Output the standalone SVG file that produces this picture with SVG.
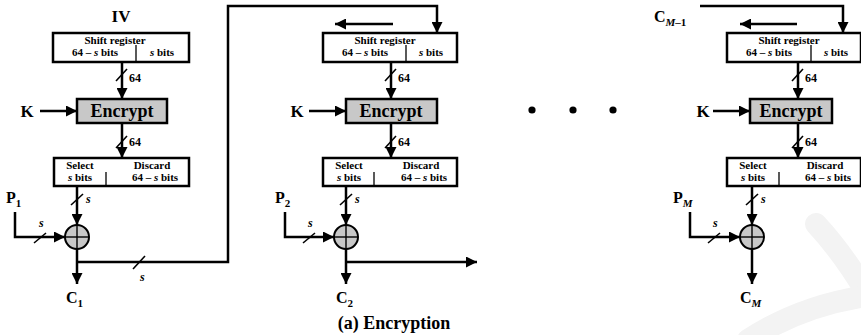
<svg xmlns="http://www.w3.org/2000/svg" width="861" height="335" viewBox="0 0 861 335" font-family="'Liberation Serif', 'DejaVu Serif', serif">
  <defs>
    <marker id="arrow" viewBox="0 0 10 10" refX="10" refY="5" markerWidth="11" markerHeight="11" markerUnits="userSpaceOnUse" orient="auto">
      <path d="M0,0 L10,5 L0,10 Z" fill="#000"/>
    </marker>
    <style>
      text { font-family: 'Liberation Serif', 'DejaVu Serif', serif; font-weight: bold; fill: #000; }
      .box { fill: #fff; stroke: #000; stroke-width: 2.5; }
      .enc { fill: #c8c8c8; stroke: #000; stroke-width: 2.5; }
      .div { stroke: #000; stroke-width: 1.3; }
      .arr { fill: none; stroke: #000; stroke-width: 2.5; marker-end: url(#arrow); }
      .slash { stroke: #000; stroke-width: 1.6; }
      .xor { fill: #c8c8c8; stroke: #000; stroke-width: 2; }
      .cross { stroke: #000; stroke-width: 1.4; }
      .small { font-size: 11px; }
      .lbl { font-size: 16px; }
      .big { font-size: 17px; }
      .sub { font-size: 11px; }
      .it { font-style: italic; }
      .bits { font-size: 12px; }
      .encl { font-size: 18px; }
      .cap { font-size: 18px; }
      .wm { fill: none; stroke: #f3f3f3; stroke-width: 22; stroke-linecap: round; }
    </style>
  </defs>

  <!-- faint background mark -->
  <g id="mark">
    <path class="wm" d="M816,224 Q842,252 866,292"/>
    <path class="wm" d="M748,340 Q800,306 866,296"/>
  </g>

  <!-- ===== Stage 1 ===== -->
  <g id="iv">
    <text x="121" y="22" class="big" text-anchor="middle">IV</text>
  </g>
  <g id="shift1">
    <rect class="box" x="53" y="33" width="136" height="29"/>
    <line class="div" x1="136" y1="45" x2="136" y2="62"/>
    <text x="115" y="44" class="small" text-anchor="middle">Shift register</text>
    <text x="95" y="56" class="small" text-anchor="middle">64 – <tspan class="it">s</tspan> bits</text>
    <text x="162" y="56" class="small" text-anchor="middle"><tspan class="it">s</tspan> bits</text>
  </g>
  <g id="k1"><text x="27" y="117" class="big" text-anchor="middle">K</text></g>
  <g id="encrypt1">
    <rect class="enc" x="77" y="99" width="90" height="24"/>
    <text x="122" y="117" class="encl" text-anchor="middle">Encrypt</text>
  </g>
  <g id="select1">
    <rect class="box" x="54" y="158" width="135" height="28"/>
    <line class="div" x1="106" y1="172" x2="106" y2="186"/>
    <text x="80" y="169" class="small" text-anchor="middle">Select</text>
    <text x="80" y="181" class="small" text-anchor="middle"><tspan class="it">s</tspan> bits</text>
    <text x="152" y="169" class="small" text-anchor="middle">Discard</text>
    <text x="155" y="181" class="small" text-anchor="middle">64 – <tspan class="it">s</tspan> bits</text>
  </g>
  <g id="xor1">
    <circle class="xor" cx="77" cy="237" r="12"/>
    <line class="cross" x1="65" y1="237" x2="89" y2="237"/>
    <line class="cross" x1="77" y1="225" x2="77" y2="249"/>
  </g>
  <g id="p1"><text x="6" y="203" class="lbl">P<tspan class="sub" dy="4">1</tspan></text></g>
  <g id="c1"><text x="66" y="303" class="lbl">C<tspan class="sub" dy="4">1</tspan></text></g>

  <!-- ===== Stage 2 ===== -->
  <g id="shift2">
    <rect class="box" x="323" y="33" width="134" height="29"/>
    <line class="div" x1="406" y1="45" x2="406" y2="62"/>
    <text x="385" y="44" class="small" text-anchor="middle">Shift register</text>
    <text x="365" y="56" class="small" text-anchor="middle">64 – <tspan class="it">s</tspan> bits</text>
    <text x="431" y="56" class="small" text-anchor="middle"><tspan class="it">s</tspan> bits</text>
  </g>
  <g id="k2"><text x="297" y="117" class="big" text-anchor="middle">K</text></g>
  <g id="encrypt2">
    <rect class="enc" x="346" y="99" width="91" height="24"/>
    <text x="391" y="117" class="encl" text-anchor="middle">Encrypt</text>
  </g>
  <g id="select2">
    <rect class="box" x="323" y="158" width="134" height="28"/>
    <line class="div" x1="374" y1="172" x2="374" y2="186"/>
    <text x="349" y="169" class="small" text-anchor="middle">Select</text>
    <text x="349" y="181" class="small" text-anchor="middle"><tspan class="it">s</tspan> bits</text>
    <text x="421" y="169" class="small" text-anchor="middle">Discard</text>
    <text x="424" y="181" class="small" text-anchor="middle">64 – <tspan class="it">s</tspan> bits</text>
  </g>
  <g id="xor2">
    <circle class="xor" cx="346" cy="237" r="12"/>
    <line class="cross" x1="334" y1="237" x2="358" y2="237"/>
    <line class="cross" x1="346" y1="225" x2="346" y2="249"/>
  </g>
  <g id="p2"><text x="275" y="203" class="lbl">P<tspan class="sub" dy="4">2</tspan></text></g>
  <g id="c2"><text x="336" y="303" class="lbl">C<tspan class="sub" dy="4">2</tspan></text></g>

  <!-- continuation dots -->
  <g id="dots">
    <circle cx="532" cy="110" r="3.6"/>
    <circle cx="573" cy="110" r="3.6"/>
    <circle cx="613" cy="110" r="3.6"/>
  </g>

  <!-- ===== Stage M ===== -->
  <g id="cm1"><text x="654" y="22" class="lbl">C<tspan class="sub it" dy="4">M</tspan><tspan class="sub">–1</tspan></text></g>
  <g id="shiftM">
    <rect class="box" x="727" y="33" width="134" height="29"/>
    <line class="div" x1="811" y1="45" x2="811" y2="62"/>
    <text x="789" y="44" class="small" text-anchor="middle">Shift register</text>
    <text x="769" y="56" class="small" text-anchor="middle">64 – <tspan class="it">s</tspan> bits</text>
    <text x="836" y="56" class="small" text-anchor="middle"><tspan class="it">s</tspan> bits</text>
  </g>
  <g id="kM"><text x="703" y="117" class="big" text-anchor="middle">K</text></g>
  <g id="encryptM">
    <rect class="enc" x="750" y="99" width="82" height="24"/>
    <text x="791" y="117" class="encl" text-anchor="middle">Encrypt</text>
  </g>
  <g id="selectM">
    <rect class="box" x="727" y="158" width="134" height="28"/>
    <line class="div" x1="779" y1="172" x2="779" y2="186"/>
    <text x="753" y="169" class="small" text-anchor="middle">Select</text>
    <text x="753" y="181" class="small" text-anchor="middle"><tspan class="it">s</tspan> bits</text>
    <text x="825" y="169" class="small" text-anchor="middle">Discard</text>
    <text x="828" y="181" class="small" text-anchor="middle">64 – <tspan class="it">s</tspan> bits</text>
  </g>
  <g id="xorM">
    <circle class="xor" cx="752" cy="237" r="12"/>
    <line class="cross" x1="740" y1="237" x2="764" y2="237"/>
    <line class="cross" x1="752" y1="225" x2="752" y2="249"/>
  </g>
  <g id="pM"><text x="673" y="203" class="lbl">P<tspan class="sub it" dy="4">M</tspan></text></g>
  <g id="cM"><text x="740" y="303" class="lbl">C<tspan class="sub it" dy="4">M</tspan></text></g>

  <g id="caption"><text x="394" y="329" class="cap" text-anchor="middle">(a) Encryption</text></g>

  <!-- ===== connectors ===== -->
  <g id="connectors">
    <!-- stage 1 -->
    <line class="arr" x1="40" y1="111" x2="77" y2="111"/>
    <line class="arr" x1="122" y1="62" x2="122" y2="99"/>
    <line class="slash" x1="116" y1="81" x2="127" y2="69"/>
    <text x="129" y="82" class="bits">64</text>
    <line class="arr" x1="122" y1="123" x2="122" y2="158"/>
    <line class="slash" x1="116" y1="148" x2="127" y2="136"/>
    <text x="129" y="146" class="bits">64</text>
    <line class="arr" x1="77" y1="186" x2="77" y2="225"/>
    <line class="slash" x1="71" y1="205" x2="83" y2="194"/>
    <text x="86" y="203" class="bits it">s</text>
    <polyline class="arr" points="15,212 15,237 65,237"/>
    <line class="slash" x1="34" y1="243" x2="46" y2="233"/>
    <text x="39" y="227" class="bits it">s</text>
    <line class="arr" x1="77" y1="249" x2="77" y2="284"/>
    <polyline class="arr" points="77,262 228,262 228,6 437,6 437,33"/>
    <line class="slash" x1="133" y1="269" x2="145" y2="256"/>
    <text x="140" y="281" class="bits it">s</text>

    <!-- stage 2 -->
    <line class="arr" x1="393" y1="24" x2="335" y2="24"/>
    <line class="arr" x1="309" y1="111" x2="346" y2="111"/>
    <line class="arr" x1="391" y1="62" x2="391" y2="99"/>
    <line class="slash" x1="385" y1="81" x2="396" y2="69"/>
    <text x="398" y="82" class="bits">64</text>
    <line class="arr" x1="391" y1="123" x2="391" y2="158"/>
    <line class="slash" x1="385" y1="148" x2="396" y2="136"/>
    <text x="398" y="146" class="bits">64</text>
    <line class="arr" x1="346" y1="186" x2="346" y2="225"/>
    <line class="slash" x1="340" y1="205" x2="352" y2="194"/>
    <text x="355" y="203" class="bits it">s</text>
    <polyline class="arr" points="285,212 285,237 334,237"/>
    <line class="slash" x1="303" y1="243" x2="315" y2="233"/>
    <text x="308" y="227" class="bits it">s</text>
    <line class="arr" x1="346" y1="249" x2="346" y2="284"/>
    <line class="arr" x1="346" y1="262" x2="477" y2="262"/>

    <!-- stage M -->
    <polyline class="arr" points="700,6 843,6 843,33"/>
    <line class="arr" x1="797" y1="24" x2="740" y2="24"/>
    <line class="arr" x1="713" y1="111" x2="750" y2="111"/>
    <line class="arr" x1="798" y1="62" x2="798" y2="99"/>
    <line class="slash" x1="792" y1="81" x2="803" y2="69"/>
    <text x="805" y="82" class="bits">64</text>
    <line class="arr" x1="798" y1="123" x2="798" y2="158"/>
    <line class="slash" x1="792" y1="148" x2="803" y2="136"/>
    <text x="805" y="146" class="bits">64</text>
    <line class="arr" x1="752" y1="186" x2="752" y2="225"/>
    <line class="slash" x1="746" y1="205" x2="758" y2="194"/>
    <text x="761" y="203" class="bits it">s</text>
    <polyline class="arr" points="690,212 690,237 740,237"/>
    <line class="slash" x1="708" y1="243" x2="720" y2="233"/>
    <text x="713" y="227" class="bits it">s</text>
    <line class="arr" x1="752" y1="249" x2="752" y2="284"/>
  </g>
</svg>
